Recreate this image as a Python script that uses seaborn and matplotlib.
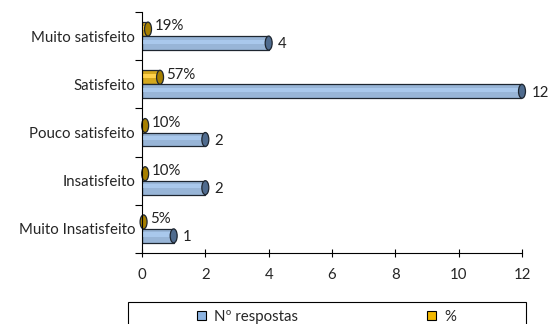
import matplotlib
matplotlib.use("Agg")
import matplotlib.pyplot as plt
from matplotlib.patches import Ellipse, Rectangle, Patch
import pandas as pd
import seaborn as sns

categorias = ["Muito satisfeito", "Satisfeito", "Pouco satisfeito",
              "Insatisfeito", "Muito Insatisfeito"]
respostas = [4, 12, 2, 2, 1]
percentagens = [19, 57, 10, 10, 5]
x_ticks = [0, 2, 4, 6, 8, 10, 12]

serie_n = "Nº respostas"
serie_p = "%"

df = pd.DataFrame({
    "categoria": categorias * 2,
    "valor": respostas + [p / 100 for p in percentagens],
    "serie": [serie_n] * len(categorias) + [serie_p] * len(categorias),
})

sns.set_theme(style="white")
plt.rcParams["font.family"] = ["Lato", "DejaVu Sans"]
fs = 10.8

azul, azul_topo, azul_brilho = "#8DB4E2", "#4F6B8E", "#A9C8EC"
amarelo, amarelo_topo, amarelo_brilho = "#F2B800", "#A67F00", "#FFD24D"
contorno = "#1E2630"

fig = plt.figure(figsize=(5.52, 3.24), dpi=100)
ax = fig.add_axes([142 / 552, 1 - 253 / 324, 380 / 552, 241 / 324])

sns.barplot(data=df, y="categoria", x="valor", hue="serie",
            order=categorias, hue_order=[serie_p, serie_n],
            palette={serie_n: azul, serie_p: amarelo},
            orient="h", width=0.58, edgecolor=contorno, linewidth=0.9,
            legend=False, ax=ax)

ax.set_xlim(0, 12)
ax.set_ylim(len(categorias) - 0.5, -0.5)

# cylinder look: light stripe along the body and a darker end cap
cap_w = 0.22
estilos = [(amarelo, amarelo_topo, amarelo_brilho), (azul, azul_topo, azul_brilho)]
for cont, (face, topo, brilho) in zip(ax.containers, estilos):
    for bar in cont:
        x0, y0 = bar.get_x(), bar.get_y()
        w, h = bar.get_width(), bar.get_height()
        bar.set_zorder(2)
        ax.add_patch(Rectangle((x0 + 0.03, y0 + h * 0.25), w - 0.03, h * 0.3,
                               facecolor=brilho, edgecolor="none", zorder=2.1))
        ax.add_patch(Ellipse((x0 + w, y0 + h / 2), cap_w, h, facecolor=topo,
                             edgecolor=contorno, linewidth=0.9, zorder=2.2,
                             clip_on=False))

# value labels
for bar, v in zip(ax.containers[1], respostas):
    ax.text(bar.get_width() + 0.3, bar.get_y() + bar.get_height() * 0.6,
            f"{v}", va="center", ha="left", fontsize=fs, color="#222222")
for bar, p in zip(ax.containers[0], percentagens):
    ax.text(bar.get_width() + 0.2, bar.get_y() + bar.get_height() * 0.3,
            f"{p}%", va="center", ha="left", fontsize=fs, color="#222222")

ax.set_xlabel("")
ax.set_ylabel("")
ax.set_xticks(x_ticks)
ax.set_xticklabels([str(t) for t in x_ticks], fontsize=fs)
ax.tick_params(axis="x", direction="inout", length=6, width=0.8,
               color="black", pad=8, bottom=True)
ax.set_yticks(range(len(categorias)))
ax.set_yticklabels(categorias, fontsize=fs)
ax.set_yticks([i - 0.5 for i in range(len(categorias) + 1)], minor=True)
ax.tick_params(axis="y", which="major", length=0, pad=5, left=False)
ax.tick_params(axis="y", which="minor", length=5, width=0.8,
               color="black", left=True)

for s in ["top", "right"]:
    ax.spines[s].set_visible(False)
for s in ["left", "bottom"]:
    ax.spines[s].set_color("black")
    ax.spines[s].set_linewidth(0.8)

# legend box below the chart
fig.patches.append(Rectangle((128 / 552, -0.05), 398 / 552, 0.05 + 22 / 324,
                             transform=fig.transFigure, facecolor="white",
                             edgecolor="black", linewidth=0.8))
handles = [Patch(facecolor=azul, edgecolor="black", linewidth=0.8, label=serie_n),
           Patch(facecolor=amarelo, edgecolor="black", linewidth=0.8, label=serie_p)]
fig.legend(handles=handles, loc="center left", bbox_to_anchor=(197 / 552, 7 / 324),
           ncol=2, frameon=False, fontsize=fs, handlelength=0.6,
           handleheight=0.6, handletextpad=0.55, columnspacing=8.6,
           borderpad=0, borderaxespad=0)

fig.savefig("out.png", dpi=100)
